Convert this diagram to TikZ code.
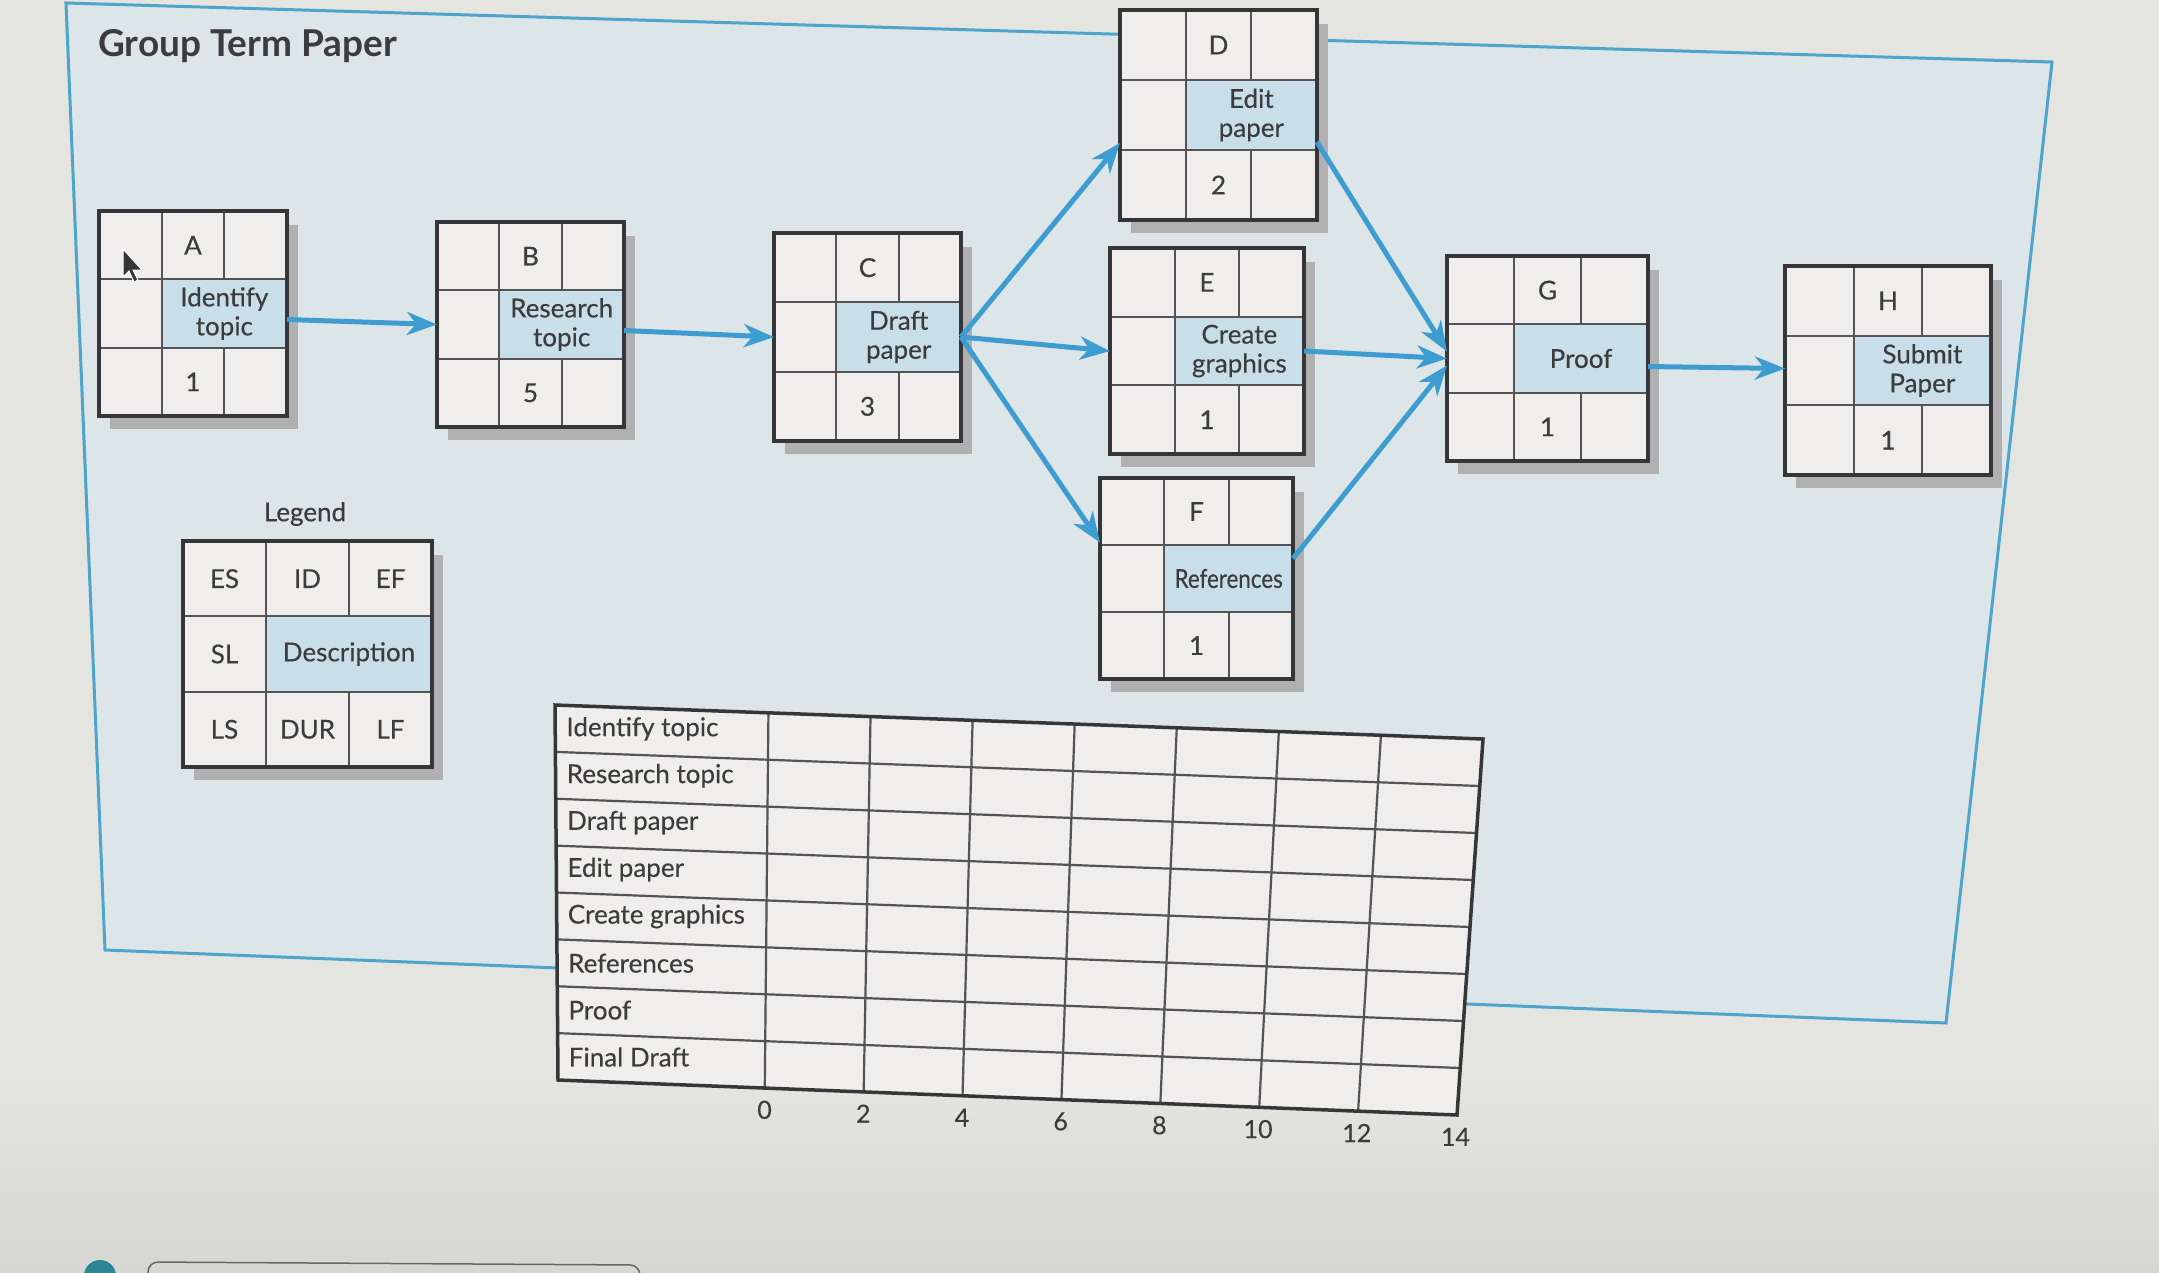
\documentclass[tikz,border=0pt]{standalone}
\usepackage{fontspec}
\setmainfont{Lato}[FakeBold=0.35]
\newfontfamily\titlefont{Lato Bold}
\usetikzlibrary{arrows.meta,calc,fit}
\definecolor{bgc}{HTML}{E4E4E1}
\definecolor{bgbot}{HTML}{D6D6D3}
\definecolor{panelc}{HTML}{DCE5E8}
\definecolor{panelline}{HTML}{4EA4CB}
\definecolor{arrowc}{HTML}{3E9DD0}
\definecolor{cellc}{HTML}{EFEEEC}
\definecolor{descc}{HTML}{C8DFE9}
\definecolor{shadowc}{HTML}{B0B0B0}
\definecolor{linec}{HTML}{363638}
\definecolor{txtc}{HTML}{3C3C3C}
\definecolor{dotc}{HTML}{2B8595}
\tikzset{
  outerline/.style={draw=linec, line width=3.5pt},
  innerline/.style={draw=linec!85, line width=2.2pt},
  boxtxt/.style={text=txtc, font=\fontsize{26}{30}\selectfont, inner sep=0pt},
  desctxt/.style={text=txtc, font=\fontsize{26}{29}\selectfont, align=center, inner sep=0pt},
  gtxt/.style={text=txtc, font=\fontsize{26}{30}\selectfont, inner sep=0pt, anchor=west},
  axtxt/.style={text=txtc, font=\fontsize{25}{30}\selectfont, inner sep=0pt},
  arr/.style={draw=arrowc, line width=5pt, -{Stealth[length=30pt,width=23pt,inset=9pt]}},
}
\newcommand\gridbox[5]{%
  \pgfmathsetmacro\gxa{#2}\pgfmathsetmacro\gxd{#4}%
  \pgfmathsetmacro\gxb{#2+(#4-#2)/3}\pgfmathsetmacro\gxc{#2+2*(#4-#2)/3}%
  \pgfmathsetmacro\gya{#3}\pgfmathsetmacro\gyd{#5}%
  \pgfmathsetmacro\gyb{#3+(#5-#3)/3}\pgfmathsetmacro\gyc{#3+2*(#5-#3)/3}%
  \fill[shadowc] ({\gxa+11},{\gya+14}) rectangle ({\gxd+11},{\gyd+13});
  \fill[cellc] (\gxa,\gya) rectangle (\gxd,\gyd);
  \fill[descc] (\gxb,\gyb) rectangle (\gxd,\gyc);
  \draw[innerline] (\gxb,\gya) -- (\gxb,\gyd)
     (\gxc,\gya) -- (\gxc,\gyb) (\gxc,\gyc) -- (\gxc,\gyd)
     (\gxa,\gyb) -- (\gxd,\gyb) (\gxa,\gyc) -- (\gxd,\gyc);
  \draw[outerline] (\gxa,\gya) rectangle (\gxd,\gyd);
  \coordinate (#1-r1c1) at ({(\gxa+\gxb)/2},{(\gya+\gyb)/2});
  \coordinate (#1-r1c2) at ({(\gxb+\gxc)/2},{(\gya+\gyb)/2});
  \coordinate (#1-r1c3) at ({(\gxc+\gxd)/2},{(\gya+\gyb)/2});
  \coordinate (#1-r2c1) at ({(\gxa+\gxb)/2},{(\gyb+\gyc)/2});
  \coordinate (#1-desc) at ({(\gxb+\gxd)/2},{(\gyb+\gyc)/2});
  \coordinate (#1-r3c1) at ({(\gxa+\gxb)/2},{(\gyc+\gyd)/2});
  \coordinate (#1-r3c2) at ({(\gxb+\gxc)/2},{(\gyc+\gyd)/2});
  \coordinate (#1-r3c3) at ({(\gxc+\gxd)/2},{(\gyc+\gyd)/2});
  \node[inner sep=0pt, outer sep=0pt, fit={(\gxa,\gya)(\gxd,\gyd)}] (#1) {};
}
\newcommand\actbox[8]{%
  \gridbox{#1}{#2}{#3}{#4}{#5}%
  \node[boxtxt] (#1-id) at (#1-r1c2) {#6};
  \node[desctxt] (#1-d) at (#1-desc) {#7};
  \node[boxtxt] (#1-dur) at (#1-r3c2) {#8};
}
\newcommand\gp[2]{($($(gTL)!#1!(gTR)$)!#2!($(gBL)!#1!(gBR)$)$)}
\begin{document}
\begin{tikzpicture}[x=1pt,y=-1pt]
\useasboundingbox (0,0) rectangle (2159,1272);
\fill[bgc] (0,0) rectangle (2159,1272);
\shade[top color=bgc, bottom color=bgbot] (0,1080) rectangle (2159,1272);
% bottom UI fragments
\fill[dotc] (100,1276) circle (16);
\draw[gray!80!black, line width=1.5pt, rounded corners=10pt] (148,1290) -- (148,1262) -- (640,1265) -- (640,1290);
% panel
\draw[draw=panelline, line width=3pt, fill=panelc] (66,3) -- (2052,62) -- (1946,1023) -- (105,950) -- cycle;
\node[anchor=west, text=txtc, font=\titlefont\fontsize{37}{42}\selectfont, inner sep=0pt] (title) at (98,46) {Group Term Paper};

% activity boxes
\actbox{A}{99}{211}{287}{416}{A}{Identify\\topic}{1}
\actbox{B}{437}{222}{624}{427}{B}{Research\\topic}{5}
\actbox{C}{774}{233}{961}{441}{C}{Draft\\paper}{3}
\actbox{D}{1120}{10}{1317}{220}{D}{Edit\\paper}{2}
\actbox{E}{1110}{248}{1304}{454}{E}{Create\\graphics}{1}
\gridbox{F}{1100}{478}{1293}{679}
\node[boxtxt] (F-id) at (F-r1c2) {F};
\node[desctxt, xscale=0.86] (F-d) at (F-desc) {References};
\node[boxtxt] (F-dur) at (F-r3c2) {1};
\actbox{G}{1447}{256}{1648}{461}{G}{Proof}{1}
\actbox{H}{1785}{266}{1991}{475}{H}{Submit\\Paper}{1}

% cursor
\fill[linec, draw=white, line width=1pt] (123,249) -- (123,277) -- (129,271) -- (134,282) -- (138,280) -- (133,270) -- (142,270) -- cycle;

% legend
\node[text=txtc, font=\fontsize{26}{30}\selectfont, inner sep=0pt] (legtitle) at (305,514) {Legend};
\gridbox{L}{183}{541}{432}{767}
\begin{scope}[every node/.style={text=txtc, font=\fontsize{26}{30}\selectfont, inner sep=0pt}]
\node (L-es) at (L-r1c1) {ES};
\node (L-id) at (L-r1c2) {ID};
\node (L-ef) at (L-r1c3) {EF};
\node (L-sl) at (L-r2c1) {SL};
\node (L-de) at (L-desc) {Description};
\node (L-ls) at (L-r3c1) {LS};
\node (L-du) at (L-r3c2) {DUR};
\node (L-lf) at (L-r3c3) {LF};
\end{scope}

% connectors
\draw[arr] ($(A.east)+(0,6)$) -- (B.west);
\draw[arr] ($(B.east)+(0,6)$) -- (C.west);
\draw[arr] (C.east) -- ($(D.west)+(0,28)$);
\draw[arr] (C.east) -- (E.west);
\draw[arr] (C.east) -- ($(F.west)+(0,-36)$);
\draw[arr] ($(D.east)+(0,27)$) -- ($(G.west)+(0,-7)$);
\draw[arr] (E.east) -- (G.west);
\draw[arr] ($(F.east)+(0,-20)$) -- ($(G.west)+(0,7)$);
\draw[arr] ($(G.east)+(0,8)$) -- ($(H.west)+(0,-2)$);

% gantt grid
\coordinate (gTL) at (555,705);
\coordinate (gTR) at (1483,739);
\coordinate (gBR) at (1457,1115);
\coordinate (gBL) at (558,1080);
\fill[cellc] (gTL) -- (gTR) -- (gBR) -- (gBL) -- cycle;
\foreach \i [evaluate=\i as \vv using \i/8] in {1,...,7}
  \draw[innerline] \gp{0}{\vv} -- \gp{1}{\vv};
\foreach \k [evaluate=\k as \uu using 0.23+\k*0.11] in {0,...,6}
  \draw[innerline] \gp{\uu}{0} -- \gp{\uu}{1};
\draw[outerline] (gTL) -- (gTR) -- (gBR) -- (gBL) -- cycle;
\foreach \lab [count=\i, evaluate=\i as \vv using (\i-0.5)/8] in {Identify topic,Research topic,Draft paper,Edit paper,Create graphics,References,Proof,Final Draft}
  \node[gtxt] (g-row\i) at \gp{0.012}{\vv} {\lab};
\foreach \lab [count=\k from 0, evaluate=\k as \uu using 0.23+\k*0.11] in {0,2,4,6,8,10,12,14}
  \node[axtxt] (g-ax\k) at \gp{\uu}{1.058} {\lab};
\end{tikzpicture}
\end{document}
